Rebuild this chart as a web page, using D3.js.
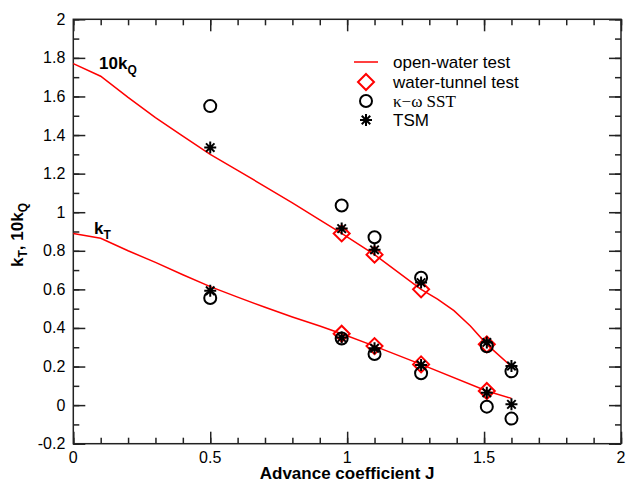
<!DOCTYPE html>
<html>
<head>
<meta charset="utf-8">
<script src="https://cdn.jsdelivr.net/npm/d3@7"></script>
<style>
  body { margin: 0; background: #fff; }
  text { font-family: "Liberation Sans", Arial, sans-serif; fill: #000; }
</style>
</head>
<body>
<div id="container"></div>
<script>
/* CONSTANTS AND GLOBALS */
const width = 626;
const height = 483;
const margin = { top: 19.3, right: 5, bottom: 39.3, left: 73.3 };
const red = "#ff0000";

/* DATA */
// open-water test curves (J, 10kQ) and (J, kT)
const openJQ = [0, 0.1, 0.2, 0.3, 0.4, 0.5, 0.6, 0.7, 0.8, 0.9, 0.98, 1.1, 1.27, 1.33, 1.39, 1.45, 1.51, 1.6];
const open10kQ = [1.77, 1.705, 1.595, 1.49, 1.395, 1.30, 1.217, 1.133, 1.048, 0.96, 0.89, 0.78, 0.60, 0.55, 0.49, 0.41, 0.315, 0.2];
const openJT = [0, 0.1, 0.2, 0.3, 0.4, 0.5, 0.6, 0.7, 0.8, 0.9, 0.98, 1.1, 1.27, 1.51, 1.6];
const openKT = [0.89, 0.865, 0.80, 0.74, 0.676, 0.614, 0.56, 0.507, 0.457, 0.41, 0.37, 0.306, 0.211, 0.073, 0.035];

// water-tunnel test
const tunnelJ = [0.98, 1.1, 1.27, 1.51];
const tunnel10kQ = [0.89, 0.78, 0.60, 0.315];
const tunnelKT = [0.37, 0.306, 0.211, 0.073];

// computations
const cfdJ = [0.5, 0.98, 1.1, 1.27, 1.51, 1.6];
const sst10kQ = [1.55, 1.035, 0.87, 0.66, 0.305, 0.175];
const sstKT = [0.555, 0.345, 0.265, 0.165, -0.008, -0.07];
const tsm10kQ = [1.335, 0.915, 0.805, 0.635, 0.325, 0.203];
const tsmKT = [0.593, 0.35, 0.295, 0.208, 0.064, 0.004];

const xTicks = [0, 0.5, 1, 1.5, 2];
const yTicks = [-0.2, 0, 0.2, 0.4, 0.6, 0.8, 1, 1.2, 1.4, 1.6, 1.8, 2];

const pairs = (xs, ys) => xs.map((x, i) => ({ x, y: ys[i] }));

/* SCALES */
const xScale = d3.scaleLinear()
  .domain([0, 2])
  .range([margin.left, width - margin.right]);

const yScale = d3.scaleLinear()
  .domain([-0.2, 2])
  .range([height - margin.bottom, margin.top]);

/* HTML ELEMENTS */
const svg = d3.select("#container")
  .append("svg")
  .attr("width", width)
  .attr("height", height);

const x0 = xScale.range()[0], x1 = xScale.range()[1];
const y0 = yScale.range()[0], y1 = yScale.range()[1];

// Axes: ticks point inward on all four sides
const minorX = d3.range(0, 2.0001, 0.1);
const minorY = d3.range(-0.2, 2.0001, 0.1);
const axisColor = "#222";

function tickAxis(axis, pos, scale, vals, size) {
  svg.append("g")
    .attr("transform", pos)
    .call(axis(scale).tickValues(vals).tickSize(size).tickFormat(""))
    .call(g => g.select(".domain").remove())
    .call(g => g.selectAll("line").attr("stroke", axisColor).attr("stroke-width", 1.5));
}
// bottom / top
tickAxis(d3.axisTop, `translate(0,${y0})`, xScale, minorX, 6);
tickAxis(d3.axisTop, `translate(0,${y0})`, xScale, xTicks, 12);
tickAxis(d3.axisBottom, `translate(0,${y1})`, xScale, minorX, 6);
tickAxis(d3.axisBottom, `translate(0,${y1})`, xScale, xTicks, 12);
// left / right
tickAxis(d3.axisRight, `translate(${x0},0)`, yScale, minorY, 6);
tickAxis(d3.axisRight, `translate(${x0},0)`, yScale, yTicks, 12);
tickAxis(d3.axisLeft, `translate(${x1},0)`, yScale, minorY, 6);
tickAxis(d3.axisLeft, `translate(${x1},0)`, yScale, yTicks, 12);

// frame
svg.append("rect")
  .attr("x", x0).attr("y", y1)
  .attr("width", x1 - x0).attr("height", y0 - y1)
  .attr("fill", "none")
  .attr("stroke", axisColor)
  .attr("stroke-width", 1.5);

// tick labels
svg.append("g").selectAll("text")
  .data(xTicks)
  .join("text")
  .attr("x", d => xScale(d))
  .attr("y", y0 + 19)
  .attr("text-anchor", "middle")
  .attr("font-size", 16)
  .text(d => d);

svg.append("g").selectAll("text")
  .data(yTicks)
  .join("text")
  .attr("x", x0 - 8)
  .attr("y", d => yScale(d) + 5.5)
  .attr("text-anchor", "end")
  .attr("font-size", 16)
  .text(d => d);

// axis titles
svg.append("text")
  .attr("x", (x0 + x1) / 2)
  .attr("y", 479)
  .attr("text-anchor", "middle")
  .attr("font-size", 17)
  .attr("font-weight", "bold")
  .text("Advance coefficient J");

const yTitle = svg.append("text")
  .attr("transform", "translate(23,235) rotate(-90)")
  .attr("text-anchor", "middle")
  .attr("font-size", 17)
  .attr("font-weight", "bold");
yTitle.append("tspan").text("k");
yTitle.append("tspan").attr("font-size", 12).attr("dy", 4).text("T");
yTitle.append("tspan").attr("dy", -4).text(", 10k");
yTitle.append("tspan").attr("font-size", 12).attr("dy", 4).text("Q");

// open-water lines
const line = d3.line()
  .x(d => xScale(d.x))
  .y(d => yScale(d.y));

[pairs(openJQ, open10kQ), pairs(openJT, openKT)].forEach(data => {
  svg.append("path")
    .datum(data)
    .attr("d", line)
    .attr("fill", "none")
    .attr("stroke", red)
    .attr("stroke-width", 1.5);
});

// marker helpers
const diamond = (g, r) => g.append("path")
  .attr("d", `M0,${-r}L${r},0L0,${r}L${-r},0Z`)
  .attr("fill", "none").attr("stroke", red).attr("stroke-width", 2);

const circle = (g, r) => g.append("circle")
  .attr("r", r)
  .attr("fill", "none").attr("stroke", "#000").attr("stroke-width", 2);

const star = (g, r) => {
  const d = r * Math.SQRT1_2;
  g.append("path")
    .attr("d", `M${-r},0H${r}M0,${-r}V${r}M${-d},${-d}L${d},${d}M${-d},${d}L${d},${-d}`)
    .attr("stroke", "#000").attr("stroke-width", 2);
};

function markers(data, draw, r) {
  svg.append("g").selectAll("g")
    .data(data)
    .join("g")
    .attr("transform", d => `translate(${xScale(d.x)},${yScale(d.y)})`)
    .each(function() { draw(d3.select(this), r); });
}

markers(pairs(tunnelJ, tunnel10kQ), diamond, 8);
markers(pairs(tunnelJ, tunnelKT), diamond, 8);
markers(pairs(cfdJ, sst10kQ), circle, 6);
markers(pairs(cfdJ, sstKT), circle, 6);
markers(pairs(cfdJ, tsm10kQ), star, 6);
markers(pairs(cfdJ, tsmKT), star, 6);

// curve labels
const kqLabel = svg.append("text")
  .attr("x", 99).attr("y", 69)
  .attr("font-size", 17).attr("font-weight", "bold");
kqLabel.append("tspan").text("10k");
kqLabel.append("tspan").attr("font-size", 12).attr("dy", 5).text("Q");

const ktLabel = svg.append("text")
  .attr("x", 94).attr("y", 234)
  .attr("font-size", 17).attr("font-weight", "bold");
ktLabel.append("tspan").text("k");
ktLabel.append("tspan").attr("font-size", 12).attr("dy", 5).text("T");

// legend
const legend = svg.append("g").attr("transform", "translate(366,0)");
const rowY = [62, 82, 101, 120];
const legendText = ["open-water test", "water-tunnel test", "κ−ω SST", "TSM"];

legend.append("line")
  .attr("x1", -12).attr("x2", 12)
  .attr("y1", rowY[0]).attr("y2", rowY[0])
  .attr("stroke", red).attr("stroke-width", 1.5);
diamond(legend.append("g").attr("transform", `translate(0,${rowY[1]})`), 8);
circle(legend.append("g").attr("transform", `translate(0,${rowY[2]})`), 6);
star(legend.append("g").attr("transform", `translate(0,${rowY[3]})`), 6);

legend.selectAll(".label")
  .data(legendText)
  .join("text")
  .attr("class", "label")
  .attr("x", 27)
  .attr("y", (d, i) => rowY[i] + 6)
  .attr("font-size", 17)
  .style("font-family", (d, i) => i === 2 ? "'Liberation Serif', 'Times New Roman', serif" : null)
  .text(d => d);
</script>
</body>
</html>
